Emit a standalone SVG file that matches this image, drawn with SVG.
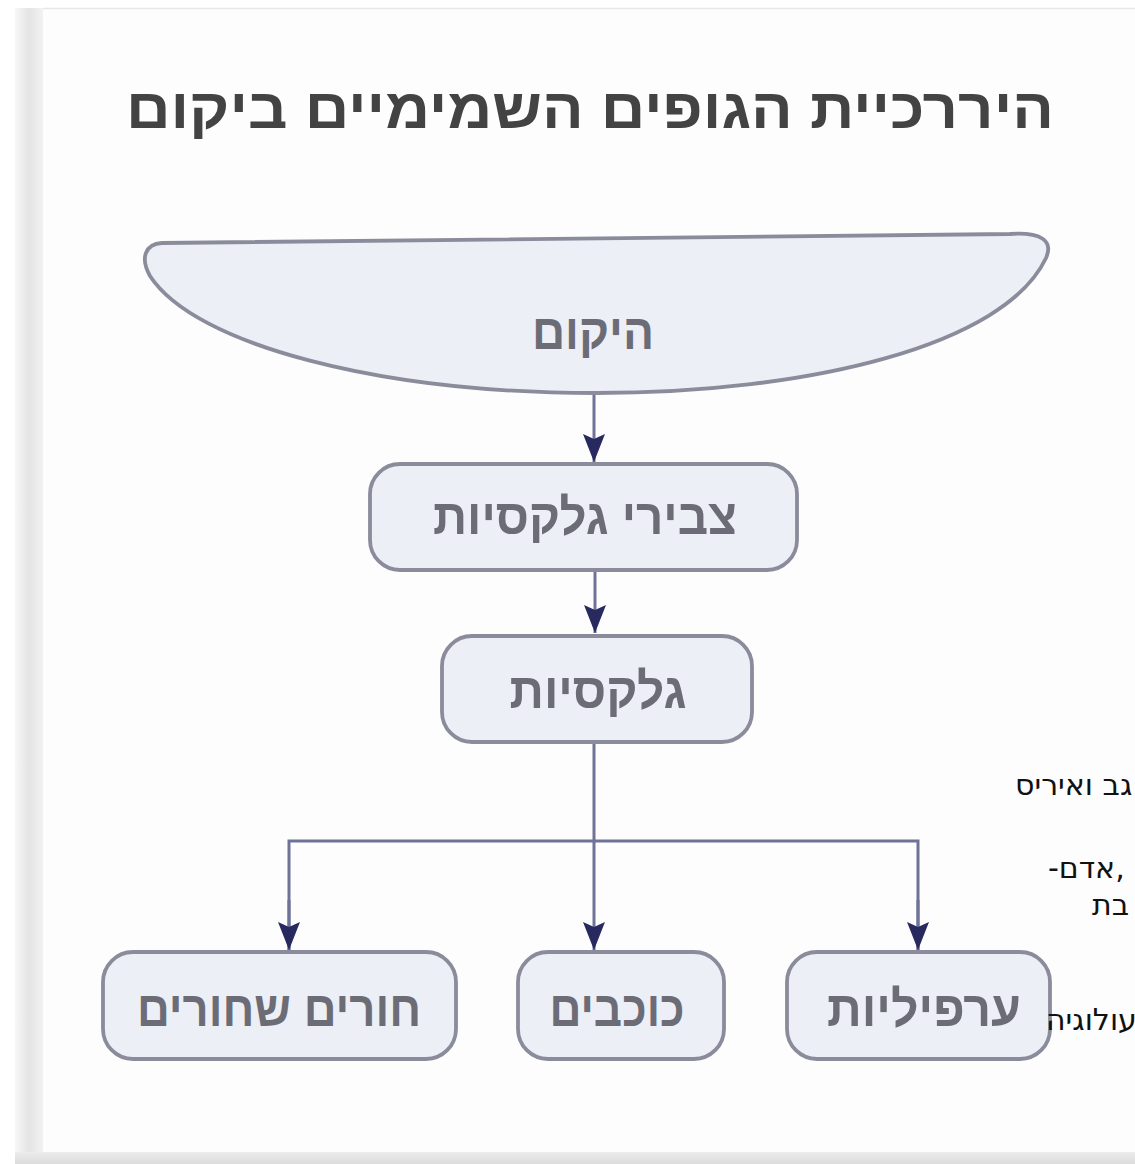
<svg xmlns="http://www.w3.org/2000/svg" width="1135" height="1164" viewBox="0 0 1135 1164">
  <defs>
    <linearGradient id="lshadow" x1="0" y1="0" x2="1" y2="0">
      <stop offset="0" stop-color="#f7f7f7"/>
      <stop offset="0.5" stop-color="#e4e4e4"/>
      <stop offset="1" stop-color="#f2f2f2"/>
    </linearGradient>
    <linearGradient id="bshadow" x1="0" y1="0" x2="0" y2="1">
      <stop offset="0" stop-color="#ececec"/>
      <stop offset="1" stop-color="#dcdcdc"/>
    </linearGradient>
    <marker id="arrow" viewBox="0 0 28 22" refX="28" refY="11" markerWidth="28" markerHeight="22" markerUnits="userSpaceOnUse" orient="auto">
      <path d="M0,0 L28,11 L0,22 L5,11 Z" fill="#27295f"/>
    </marker>
    <style>
      .node { fill: #edeff7; stroke: #8a8c9b; stroke-width: 3.8; }
      .label { font-family: "Liberation Sans", "DejaVu Sans", sans-serif; font-size: 50px; font-weight: bold; fill: #6c6c76; text-anchor: middle; direction: rtl; }
      .conn { fill: none; stroke: #6f7398; stroke-width: 3; }
      .frag { font-family: "DejaVu Sans", "Liberation Sans", sans-serif; font-size: 30px; fill: #111111; direction: rtl; text-anchor: end; }
    </style>
  </defs>

  <!-- page / card -->
  <rect x="0" y="0" width="1135" height="1164" fill="#ffffff"/>
  <rect x="15" y="8" width="28" height="1144" fill="url(#lshadow)"/>
  <rect x="43" y="8" width="1092" height="1144" fill="#fdfdfd"/>
  <line x1="43" y1="8.5" x2="1135" y2="8.5" stroke="#e8e8e8" stroke-width="1.5"/>
  <rect x="15" y="1152" width="1120" height="12" fill="url(#bshadow)"/>

  <!-- title -->
  <text x="590" y="128" font-family="Liberation Sans, DejaVu Sans, sans-serif" font-weight="bold" font-size="56" fill="#434343" text-anchor="middle" direction="rtl" textLength="928" lengthAdjust="spacingAndGlyphs">היררכיית הגופים השמימיים ביקום</text>

  <!-- connectors -->
  <g id="connectors">
    <line class="conn" x1="594" y1="394" x2="594" y2="462" marker-end="url(#arrow)"/>
    <line class="conn" x1="595" y1="570" x2="595" y2="633" marker-end="url(#arrow)"/>
    <line class="conn" x1="594" y1="742" x2="594" y2="950" marker-end="url(#arrow)"/>
    <polyline class="conn" points="289,950 289,841 918,841 918,950" stroke="#7d8099" stroke-width="3.8"/>
    <line class="conn" x1="289" y1="900" x2="289" y2="950" marker-end="url(#arrow)"/>
    <line class="conn" x1="918" y1="900" x2="918" y2="950" marker-end="url(#arrow)"/>
  </g>

  <!-- nodes -->
  <g id="node-universe">
    <path class="node" d="M162,243 L1010,234 C1040,232 1054,240 1046,258 C1005,345 810,393 596,393 C380,393 195,345 150,276 C140,258 145,244 162,243 Z"/>
    <text class="label" x="593" y="349" textLength="122" lengthAdjust="spacingAndGlyphs">היקום</text>
  </g>
  <g id="node-clusters">
    <rect class="node" x="370" y="464" width="427" height="106" rx="30"/>
    <text class="label" x="585" y="534" textLength="304" lengthAdjust="spacingAndGlyphs">צבירי גלקסיות</text>
  </g>
  <g id="node-galaxies">
    <rect class="node" x="442" y="636" width="310" height="106" rx="30"/>
    <text class="label" x="598" y="708" textLength="177" lengthAdjust="spacingAndGlyphs">גלקסיות</text>
  </g>
  <g id="node-blackholes">
    <rect class="node" x="103" y="952" width="353" height="107" rx="30"/>
    <text class="label" x="279" y="1026" textLength="284" lengthAdjust="spacingAndGlyphs">חורים שחורים</text>
  </g>
  <g id="node-stars">
    <rect class="node" x="518" y="952" width="206" height="107" rx="30"/>
    <text class="label" x="617" y="1026" textLength="135" lengthAdjust="spacingAndGlyphs">כוכבים</text>
  </g>
  <g id="node-nebulae">
    <rect class="node" x="787" y="952" width="263" height="107" rx="30"/>
    <text class="label" x="924" y="1026" textLength="194" lengthAdjust="spacingAndGlyphs">ערפיליות</text>
  </g>

  <!-- text fragments at right edge -->
  <g id="fragments">
    <text class="frag" x="1015" y="795">גב ואיריס</text>
    <text class="frag" x="1048" y="878">,אדם-</text>
    <text class="frag" x="1092" y="915">בת</text>
    <text class="frag" x="1046" y="1030">עולוגיה</text>
  </g>
</svg>
